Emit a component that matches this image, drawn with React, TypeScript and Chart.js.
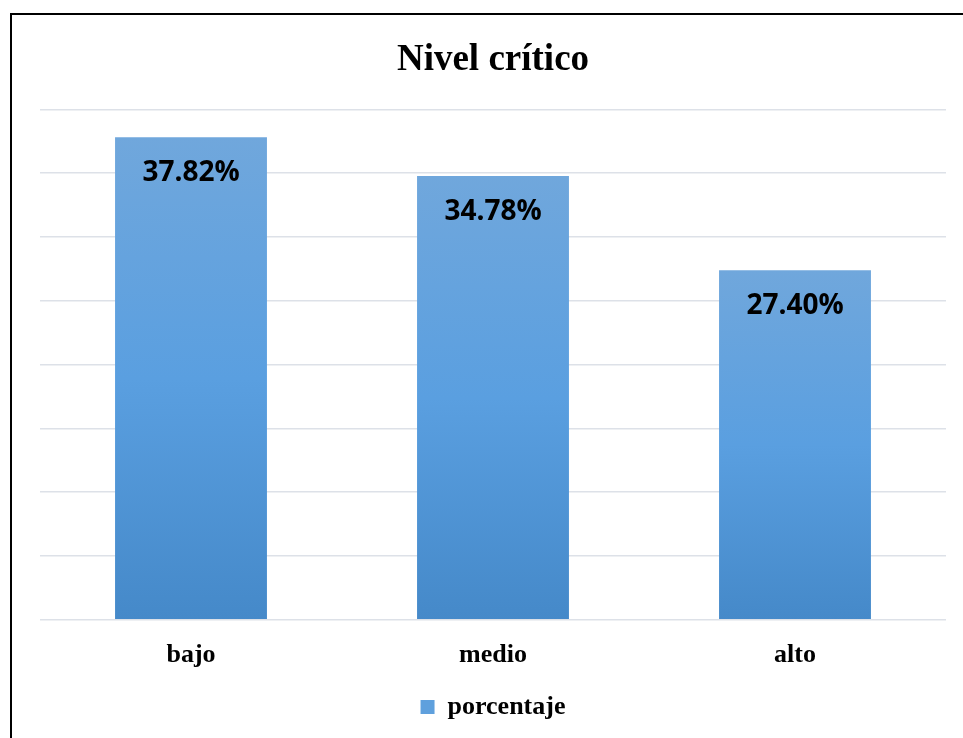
import React, { useEffect, useRef } from "react";
import { Chart, registerables } from "chart.js";

Chart.register(...registerables);

const categories = ["bajo", "medio", "alto"];
const seriesName = "porcentaje";
const values = [37.82, 34.78, 27.4];
const valueLabels = ["37.82%", "34.78%", "27.40%"];
const titleText = "Nivel crítico";
const yMax = 40;
const yStep = 5;

const dataLabelPlugin = {
  id: "dataLabels",
  afterDatasetsDraw(chart: any) {
    const ctx = chart.ctx;
    const meta = chart.getDatasetMeta(0);
    ctx.save();
    ctx.font = "bold 28px 'Open Sans'";
    ctx.fillStyle = "#000000";
    ctx.textAlign = "center";
    ctx.textBaseline = "middle";
    meta.data.forEach((bar: any, i: number) => {
      ctx.fillText(valueLabels[i], bar.x, bar.y + 36);
    });
    ctx.restore();
  },
};

export default function App() {
  const ref = useRef<HTMLCanvasElement | null>(null);
  useEffect(() => {
    if (!ref.current) return;
    const chart = new Chart(ref.current, {
      type: "bar",
      data: {
        labels: categories,
        datasets: [
          {
            label: seriesName,
            data: values,
            backgroundColor: (c: any) => {
              const ch = c.chart;
              const ys = ch.scales && ch.scales.y;
              if (!ys || c.raw === undefined) return "#5b9bd5";
              const top = ys.getPixelForValue(c.raw);
              const bottom = ys.getPixelForValue(0);
              if (!isFinite(top) || !isFinite(bottom)) return "#5b9bd5";
              const g = ch.ctx.createLinearGradient(0, top, 0, bottom);
              g.addColorStop(0, "#70a7dc");
              g.addColorStop(0.5, "#5a9fe0");
              g.addColorStop(1, "#4589c9");
              return g;
            },
            borderWidth: 0,
            barPercentage: 0.503,
            categoryPercentage: 1.0,
          },
        ],
      },
      options: {
        animation: false,
        responsive: false,
        devicePixelRatio: 1,
        layout: { padding: { left: 40, right: 17, top: 0, bottom: 8 } },
        plugins: {
          title: {
            display: true,
            text: titleText,
            color: "#000000",
            font: { family: "'Liberation Serif'", size: 37, weight: "bold" },
            padding: { top: 38, bottom: 27 },
          },
          legend: {
            display: true,
            position: "bottom",
            labels: {
              color: "#000000",
              font: { family: "'Liberation Serif'", size: 26, weight: "bold" },
              boxWidth: 14,
              boxHeight: 14,
              padding: 11,
              generateLabels: () => [
                {
                  text: seriesName,
                  fillStyle: "#5fa0dd",
                  strokeStyle: "#5fa0dd",
                  lineWidth: 0,
                  hidden: false,
                  datasetIndex: 0,
                },
              ],
            },
          },
          tooltip: { enabled: false },
        },
        scales: {
          x: {
            grid: { display: false },
            border: { display: false },
            ticks: {
              color: "#000000",
              font: { family: "'Liberation Serif'", size: 26, weight: "bold" },
              padding: 12,
            },
          },
          y: {
            min: 0,
            max: yMax,
            ticks: { display: false, stepSize: yStep },
            grid: { color: "#dde1e8", lineWidth: 1.5, drawTicks: false },
            border: { display: false },
          },
        },
      },
      plugins: [dataLabelPlugin],
    });
    return () => chart.destroy();
  }, []);

  return (
    <div
      style={{
        position: "fixed",
        left: 0,
        top: 0,
        width: 963,
        height: 738,
        overflow: "hidden",
        background: "#ffffff",
      }}
    >
      <div
        style={{
          position: "absolute",
          left: 10,
          top: 13,
          width: 1000,
          height: 800,
          border: "2px solid #000000",
          boxSizing: "border-box",
        }}
      />
      <canvas
        ref={ref}
        width={963}
        height={738}
        style={{ position: "absolute", left: 0, top: 0, width: 963, height: 738 }}
      />
    </div>
  );
}
